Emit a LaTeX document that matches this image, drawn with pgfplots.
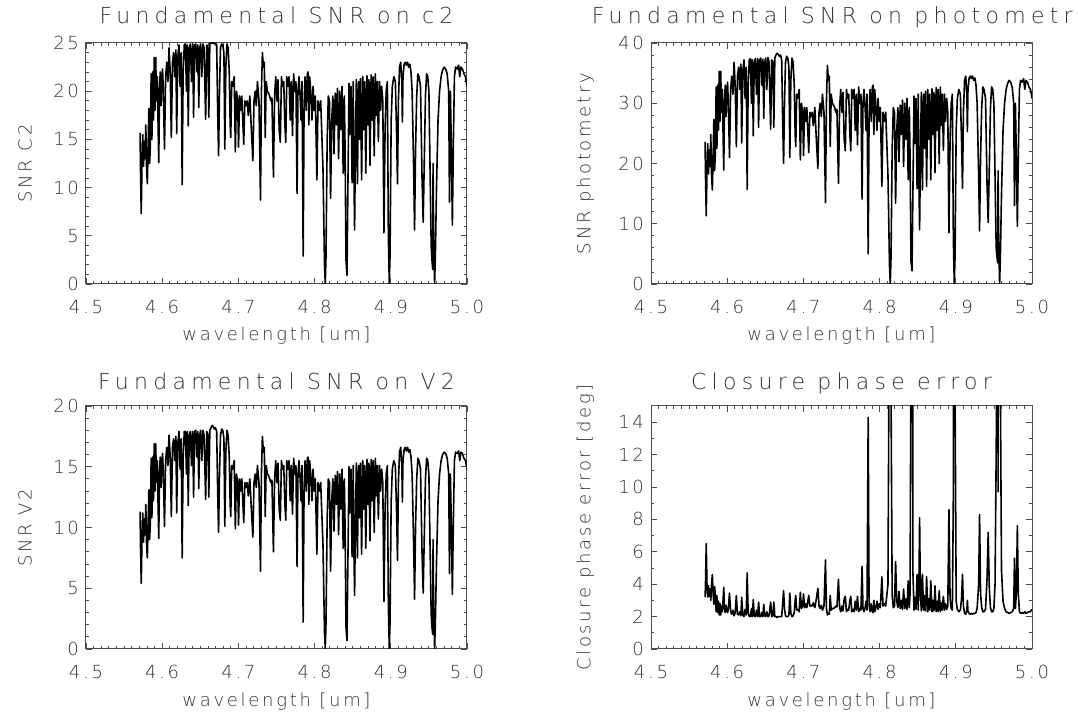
\documentclass[border=0pt]{standalone}
\usepackage{fontspec}
\IfFontExistsTF{DejaVu Sans ExtraLight}{\setmainfont{DejaVu Sans ExtraLight}[LetterSpace=15]}{\setmainfont{DejaVu Sans}[LetterSpace=15]}
\usepackage{pgfplots}
\usepackage{pgfplotstable}
\pgfplotsset{compat=1.18}
\definecolor{txt}{gray}{0.2}
\definecolor{frm}{gray}{0.3}
\pgfplotstableread{
x c2 ph v2 cp
4.5710 15.7 23.6 11.3 3.2
4.5715 12.0 18.0 8.6 4.0
4.5725 7.3 11.3 5.4 6.5
4.5735 12.5 18.8 9.0 3.85
4.5745 15.5 23.3 11.2 3.2
4.5755 12.2 18.3 8.8 3.9
4.5765 14.8 22.2 10.7 3.25
4.5775 13.0 19.5 9.4 3.7
4.5785 16.5 24.8 11.9 3.0
4.5795 12.0 18.0 8.6 4.0
4.5805 10.4 15.6 7.5 4.6
4.5815 14.0 21.0 10.1 3.45
4.5825 18.2 27.3 13.1 2.75
4.5835 12.5 18.8 9.0 3.85
4.5845 14.5 21.8 10.4 3.3
4.5855 21.8 32.7 15.7 2.3
4.5865 15.0 22.5 10.8 3.3
4.5875 22.0 33.0 15.8 2.25
4.5885 17.0 25.5 12.2 2.95
4.5895 23.5 35.3 16.9 2.1
4.5905 18.0 27.0 13.0 2.8
4.5915 23.5 35.3 16.9 2.1
4.5925 19.0 28.5 13.7 2.65
4.5935 21.5 32.3 15.5 2.3
4.5945 17.0 25.5 12.2 2.95
4.5955 12.6 18.9 9.1 3.8
4.5965 20.5 30.8 14.8 2.45
4.5975 22.0 33.0 15.8 2.25
4.5985 18.5 27.8 13.3 2.7
4.5995 21.0 31.5 15.1 2.4
4.6005 22.3 33.5 16.1 2.25
4.6015 20.0 30.0 14.4 2.5
4.6030 14.0 21.0 10.1 3.45
4.6045 21.5 32.3 15.5 2.3
4.6060 23.0 34.5 16.6 2.15
4.6075 21.0 31.5 15.1 2.4
4.6090 24.5 36.8 17.6 2.05
4.6105 22.0 33.0 15.8 2.25
4.6120 15.2 22.8 10.9 3.3
4.6135 23.0 34.5 16.6 2.15
4.6150 24.0 36.0 17.3 2.1
4.6165 21.5 32.3 15.5 2.3
4.6180 24.3 36.5 17.5 2.05
4.6190 15.6 23.4 11.2 3.2
4.6205 23.5 35.3 16.9 2.1
4.6220 24.8 37.2 17.9 2.0
4.6235 20.5 30.8 14.8 2.45
4.6250 24.0 36.0 17.3 2.1
4.6262 10.3 15.7 7.5 4.7
4.6275 22.0 33.0 15.8 2.25
4.6290 24.8 37.2 17.9 2.0
4.6305 24.9 37.4 17.9 2.0
4.6318 20.0 30.0 14.4 2.5
4.6330 24.8 37.2 17.9 2.0
4.6342 16.4 24.6 11.8 3.05
4.6355 24.5 36.8 17.6 2.05
4.6370 24.9 37.4 17.9 2.0
4.6385 21.0 31.5 15.1 2.4
4.6400 24.9 37.4 17.9 2.0
4.6412 17.3 26.0 12.5 2.9
4.6425 24.8 37.2 17.9 2.0
4.6440 24.9 37.5 18.0 2.0
4.6455 22.0 33.0 15.8 2.25
4.6468 24.8 37.3 17.9 2.0
4.6480 18.3 27.5 13.2 2.75
4.6492 24.5 36.8 17.6 2.05
4.6505 24.9 37.5 18.0 2.0
4.6520 21.5 32.3 15.5 2.3
4.6535 24.9 37.6 18.0 2.0
4.6550 24.5 36.8 17.6 2.05
4.6570 17.1 25.7 12.3 2.9
4.6585 24.8 37.2 17.9 2.0
4.6600 24.5 36.8 17.6 2.05
4.6612 17.3 26.0 12.5 2.9
4.6625 24.9 37.5 18.0 2.0
4.6640 25.0 38.0 18.2 2.0
4.6655 25.0 38.3 18.4 1.95
4.6670 25.0 38.1 18.3 2.0
4.6685 24.9 37.8 18.1 2.0
4.6700 25.0 38.0 18.2 2.0
4.6715 24.8 37.2 17.9 2.0
4.6728 18.0 27.0 13.0 2.8
4.6740 13.3 20.0 9.6 3.6
4.6752 20.0 30.0 14.4 2.5
4.6765 24.5 36.8 17.6 2.05
4.6780 24.9 37.8 18.1 2.0
4.6795 24.8 37.5 18.0 2.0
4.6810 24.0 36.0 17.3 2.1
4.6822 14.0 21.0 10.1 3.45
4.6835 22.5 33.8 16.2 2.2
4.6850 24.9 37.5 18.0 2.0
4.6865 24.5 36.8 17.6 2.05
4.6880 22.0 33.0 15.8 2.25
4.6892 16.5 24.8 11.9 3.0
4.6900 15.2 22.8 10.9 3.3
4.6912 21.0 31.5 15.1 2.4
4.6925 20.5 30.8 14.8 2.45
4.6945 21.5 32.3 15.5 2.3
4.6960 13.7 20.6 9.9 3.5
4.6975 20.0 30.0 14.4 2.5
4.6990 19.0 28.5 13.7 2.65
4.7002 14.2 21.3 10.2 3.4
4.7015 19.5 29.3 14.0 2.55
4.7030 18.0 27.0 13.0 2.8
4.7045 19.5 29.3 14.0 2.55
4.7070 14.5 21.8 10.4 3.3
4.7085 19.0 28.5 13.7 2.65
4.7100 18.5 27.8 13.3 2.7
4.7115 19.0 28.5 13.7 2.65
4.7130 17.5 26.3 12.6 2.85
4.7150 19.5 29.3 14.0 2.55
4.7170 16.0 24.0 11.5 3.1
4.7190 12.8 19.2 9.2 3.75
4.7205 19.0 28.5 13.7 2.65
4.7220 20.0 30.0 14.4 2.5
4.7235 18.5 27.8 13.3 2.7
4.7250 21.0 31.5 15.1 2.4
4.7270 19.0 28.5 13.7 2.65
4.7290 8.7 13.5 6.4 5.5
4.7302 20.0 30.0 14.4 2.5
4.7315 24.0 36.3 17.5 2.1
4.7328 22.5 33.8 16.2 2.2
4.7340 23.0 34.5 16.6 2.15
4.7352 15.2 22.8 10.9 3.3
4.7365 21.0 31.5 15.1 2.4
4.7380 20.0 30.0 14.4 2.5
4.7395 19.8 29.7 14.3 2.5
4.7410 19.5 29.3 14.0 2.55
4.7425 19.0 28.5 13.7 2.65
4.7440 19.3 29.0 13.9 2.6
4.7460 11.1 16.7 8.0 4.3
4.7475 19.5 29.3 14.0 2.55
4.7490 21.5 32.3 15.5 2.3
4.7505 19.0 28.5 13.7 2.65
4.7520 21.2 31.8 15.3 2.35
4.7535 16.0 24.0 11.5 3.1
4.7550 14.7 22.1 10.6 3.25
4.7565 21.5 32.3 15.5 2.3
4.7580 20.5 30.8 14.8 2.45
4.7595 21.0 31.5 15.1 2.4
4.7610 16.5 24.8 11.9 3.0
4.7622 14.7 22.1 10.6 3.25
4.7635 21.5 32.3 15.5 2.3
4.7650 20.5 30.8 14.8 2.45
4.7665 21.5 32.3 15.5 2.3
4.7680 17.0 25.5 12.2 2.95
4.7695 21.0 31.5 15.1 2.4
4.7710 15.4 23.1 11.1 3.25
4.7725 21.8 32.7 15.7 2.3
4.7740 20.0 30.0 14.4 2.5
4.7755 21.0 31.5 15.1 2.4
4.7770 9.4 14.1 6.8 5.1
4.7782 20.0 30.0 14.4 2.5
4.7795 21.5 32.3 15.5 2.3
4.7810 19.5 29.3 14.0 2.55
4.7822 17.0 25.5 12.2 2.95
4.7835 21.0 31.5 15.1 2.4
4.7850 2.9 5.0 2.2 14.3
4.7862 18.5 27.8 13.3 2.7
4.7875 21.5 32.3 15.5 2.3
4.7890 18.0 27.0 13.0 2.8
4.7905 21.8 32.7 15.7 2.3
4.7915 22.0 33.0 15.8 2.25
4.7925 16.5 24.8 11.9 3.0
4.7935 21.5 32.3 15.5 2.3
4.7950 20.0 30.0 14.4 2.5
4.7965 17.0 25.5 12.2 2.95
4.7980 20.5 30.8 14.8 2.45
4.7995 18.0 27.0 13.0 2.8
4.8010 19.5 29.3 14.0 2.55
4.8030 10.8 16.2 7.8 4.45
4.8045 19.0 28.5 13.7 2.65
4.8060 18.0 27.0 13.0 2.8
4.8080 19.0 28.5 13.7 2.65
4.8110 12.0 18.0 8.6 4.0
4.8130 2.0 3.0 1.4 24
4.8140 0.0 0.0 0.0 60
4.8150 3.0 4.5 2.2 16
4.8165 15.0 22.5 10.8 3.3
4.8180 19.5 29.3 14.0 2.55
4.8195 19.0 28.5 13.7 2.65
4.8210 8.9 13.4 6.4 5.4
4.8225 17.0 25.5 12.2 2.95
4.8240 19.5 29.3 14.0 2.55
4.8255 13.5 20.3 9.7 3.55
4.8270 19.8 29.7 14.3 2.5
4.8285 16.5 24.8 11.9 3.0
4.8300 20.3 30.5 14.6 2.45
4.8315 13.0 19.5 9.4 3.7
4.8330 20.0 30.0 14.4 2.5
4.8345 16.0 24.0 11.5 3.1
4.8360 20.5 30.8 14.8 2.45
4.8375 11.5 17.3 8.3 4.2
4.8390 19.5 29.3 14.0 2.55
4.8400 14.0 21.0 10.1 3.45
4.8412 2.5 3.8 1.8 19
4.8425 0.9 2.2 0.7 53
4.8437 10.0 15.0 7.2 4.8
4.8452 20.8 31.2 15.0 2.4
4.8465 15.5 23.3 11.2 3.2
4.8478 20.5 30.8 14.8 2.45
4.8492 10.5 15.8 7.6 4.6
4.8507 21.0 31.5 15.1 2.4
4.8518 10.2 15.3 7.3 4.7
4.8525 5.6 9.0 4.4 8.1
4.8535 14.0 21.0 10.1 3.45
4.8548 21.2 31.8 15.3 2.35
4.8562 10.4 15.6 7.5 4.6
4.8577 21.0 31.5 15.1 2.4
4.8590 15.0 22.5 10.8 3.3
4.8603 21.3 32.0 15.3 2.35
4.8617 10.8 16.2 7.8 4.45
4.8632 21.5 32.3 15.5 2.3
4.8645 16.0 24.0 11.5 3.1
4.8658 21.0 31.5 15.1 2.4
4.8672 11.5 17.3 8.3 4.2
4.8687 21.6 32.4 15.6 2.3
4.8700 16.5 24.8 11.9 3.0
4.8713 21.2 31.8 15.3 2.35
4.8727 12.3 18.5 8.9 3.9
4.8742 21.7 32.6 15.6 2.3
4.8755 17.0 25.5 12.2 2.95
4.8768 21.5 32.3 15.5 2.3
4.8782 13.3 20.0 9.6 3.6
4.8797 21.8 32.7 15.7 2.3
4.8810 17.5 26.3 12.6 2.85
4.8823 21.0 31.5 15.1 2.4
4.8837 14.8 22.2 10.7 3.25
4.8852 21.0 31.5 15.1 2.4
4.8866 18.0 27.0 13.0 2.8
4.8880 20.5 30.8 14.8 2.45
4.8895 19.0 28.5 13.7 2.65
4.8910 5.3 8.5 3.9 8.6
4.8925 16.0 24.0 11.5 3.1
4.8940 20.0 30.0 14.4 2.5
4.8955 21.0 31.5 15.1 2.4
4.8968 5.0 7.5 3.6 9.6
4.8980 0.0 0.0 0.0 60
4.8990 3.0 4.5 2.2 16
4.9005 17.0 25.5 12.2 2.95
4.9020 20.5 30.8 14.8 2.45
4.9040 21.5 32.3 15.5 2.3
4.9060 21.0 31.5 15.1 2.4
4.9075 16.0 24.0 11.5 3.1
4.9088 10.4 15.9 7.3 4.6
4.9100 19.0 28.5 13.7 2.65
4.9115 22.5 33.8 16.2 2.2
4.9130 23.0 34.5 16.6 2.15
4.9145 21.0 31.5 15.1 2.4
4.9152 16.8 25.3 12.1 3.0
4.9160 21.5 32.3 15.5 2.3
4.9175 22.8 34.2 16.4 2.2
4.9190 23.0 34.5 16.6 2.15
4.9205 22.7 34.1 16.3 2.2
4.9220 23.0 34.5 16.6 2.15
4.9235 22.5 33.8 16.2 2.2
4.9250 22.8 34.2 16.4 2.2
4.9265 22.0 33.0 15.8 2.25
4.9280 20.0 30.0 14.4 2.5
4.9300 12.0 18.0 8.6 4.0
4.9312 5.6 8.8 4.1 8.3
4.9325 14.0 21.0 10.1 3.45
4.9340 19.5 29.3 14.0 2.55
4.9355 21.8 32.7 15.7 2.3
4.9370 21.5 32.3 15.5 2.3
4.9390 20.5 30.8 14.8 2.45
4.9410 11.0 16.5 7.9 4.35
4.9425 6.4 10.2 4.6 7.2
4.9440 13.0 19.5 9.4 3.7
4.9455 19.5 29.3 14.0 2.55
4.9470 21.8 32.7 15.7 2.3
4.9485 21.5 32.3 15.5 2.3
4.9500 20.0 30.0 14.4 2.5
4.9515 12.0 18.0 8.6 4.0
4.9530 4.0 6.0 2.9 12
4.9540 2.5 4.5 1.8 19
4.9550 1.5 3.5 1.2 32
4.9555 12.5 18.8 9.0 9.7
4.9562 5.0 7.5 3.6 40
4.9575 0.0 0.0 0.0 60
4.9585 3.0 4.5 2.2 16
4.9600 10.0 15.0 7.2 4.8
4.9620 17.0 25.5 12.2 2.95
4.9640 20.0 30.0 14.4 2.5
4.9660 21.5 32.3 15.5 2.3
4.9680 22.2 33.3 16.0 2.25
4.9700 22.5 33.8 16.2 2.2
4.9720 22.3 33.5 16.1 2.25
4.9740 21.8 32.7 15.7 2.3
4.9760 20.0 30.0 14.4 2.5
4.9770 8.5 13.0 6.2 5.6
4.9782 20.0 30.0 14.4 2.5
4.9795 14.0 21.0 10.1 3.45
4.9808 6.1 9.6 4.5 7.6
4.9820 14.0 21.0 10.1 3.45
4.9835 21.5 32.3 15.5 2.3
4.9850 22.5 33.8 16.2 2.2
4.9870 22.3 33.5 16.1 2.25
4.9890 22.7 34.1 16.3 2.2
4.9905 21.5 32.3 15.5 2.3
4.9920 22.5 33.8 16.2 2.2
4.9940 22.3 33.5 16.1 2.25
4.9960 21.8 32.7 15.7 2.3
4.9980 21.5 32.3 15.5 2.3
5.0000 20.5 30.8 14.8 2.45
}\spec
\pgfplotsset{
  idl/.style={
    scale only axis, width=190.5pt, height=120.5pt,
    xmin=4.5, xmax=5.0,
    xtick={4.5,4.6,4.7,4.8,4.9,5.0},
    minor x tick num=9,
    tick align=inside,
    major tick length=3pt, minor tick length=1.6pt,
    every tick/.style={frm, line width=0.4pt},
    axis line style={frm, line width=0.5pt},
    font=\fontsize{9pt}{11pt}\selectfont\color{txt},
    /pgf/number format/assume math mode=true,
    x tick label style={/pgf/number format/.cd, fixed, fixed zerofill, precision=1, /tikz/.cd, yshift=-4.5pt},
    y tick label style={/pgf/number format/.cd, fixed, precision=0},
    xlabel={wavelength [um]},
    xlabel style={at={(axis description cs:0.5,-0.215)}, anchor=center},
    title style={at={(axis description cs:0.5,1)}, anchor=base, yshift=3.8pt,
      font=\fontsize{11pt}{12pt}\selectfont\addfontfeatures{LetterSpace=24}\color{txt}},
    ylabel style={anchor=center, rotate=0},
  },
  spec/.style={black, line width=0.8pt, line join=round, mark=none},
}
\begin{document}
\begin{tikzpicture}
\useasboundingbox (0,0) rectangle (539pt,358.5pt);
% top left
\begin{axis}[idl, at={(43pt,216.5pt)}, anchor=south west,
  ymin=0, ymax=25, ytick={0,5,...,25}, minor y tick num=4,
  title={Fundamental SNR on c2}, ylabel={SNR C2},
  ylabel style={at={(axis description cs:-0.16,0.5)}}]
\addplot[spec] table[x=x, y=c2] {\spec};
\end{axis}
% top right
\begin{axis}[idl, at={(325.5pt,216.5pt)}, anchor=south west,
  ymin=0, ymax=40, ytick={0,10,...,40}, minor y tick num=4,
  title={Fundamental SNR on photometry}, ylabel={SNR photometry},
  ylabel style={at={(axis description cs:-0.172,0.5)}}]
\addplot[spec] table[x=x, y=ph] {\spec};
\end{axis}
% bottom left
\begin{axis}[idl, at={(43pt,34pt)}, anchor=south west, height=121.5pt,
  ymin=0, ymax=20, ytick={0,5,...,20}, minor y tick num=4,
  title={Fundamental SNR on V2}, ylabel={SNR V2},
  title style={yshift=-1.8pt},
  ylabel style={at={(axis description cs:-0.16,0.5)}}]
\addplot[spec] table[x=x, y=v2] {\spec};
\end{axis}
% bottom right
\begin{axis}[idl, at={(325.5pt,34pt)}, anchor=south west, height=121.5pt,
  ymin=0, ymax=15, ytick={0,2,...,14}, minor y tick num=1,
  title={Closure phase error}, ylabel={Closure phase error [deg]},
  title style={yshift=-1.8pt},
  ylabel style={at={(axis description cs:-0.172,0.5)}}]
\addplot[spec] table[x=x, y=cp] {\spec};
\end{axis}
\end{tikzpicture}
\end{document}
